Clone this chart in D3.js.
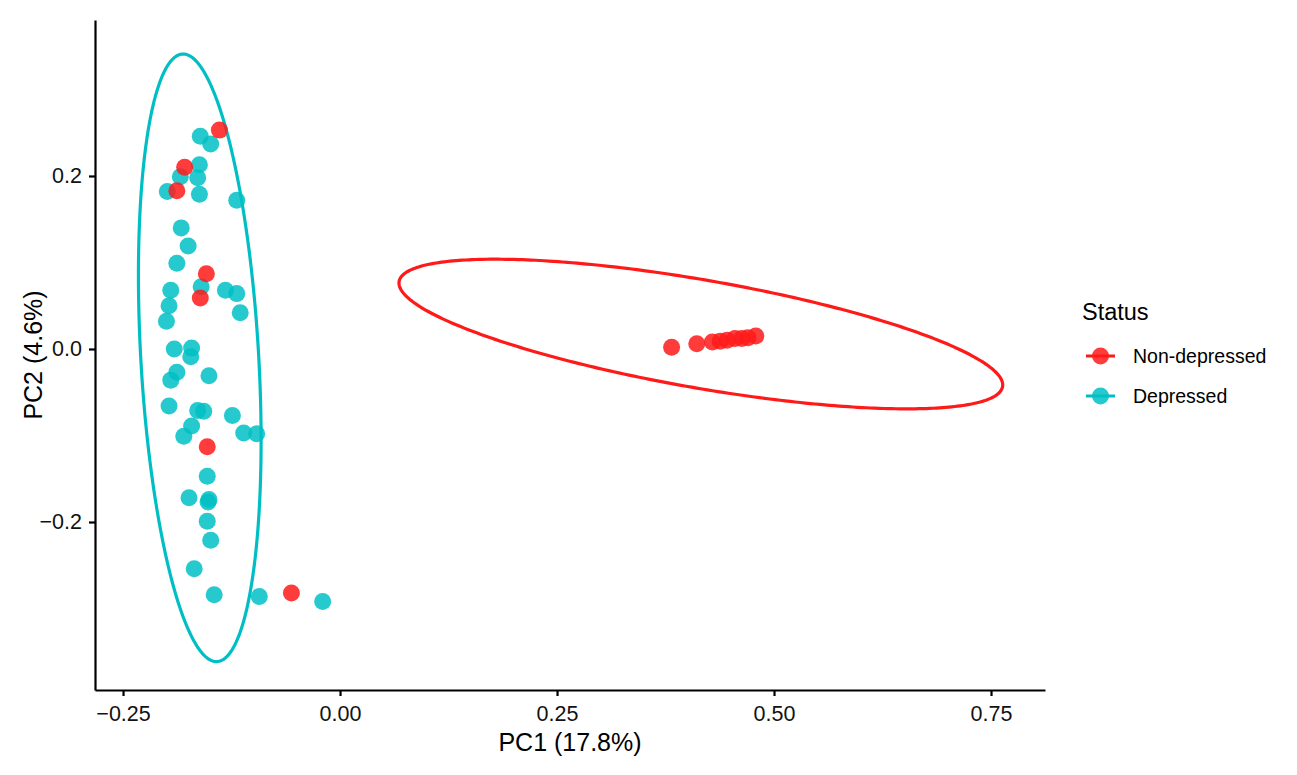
<!DOCTYPE html>
<html>
<head>
<meta charset="utf-8">
<script src="https://cdn.jsdelivr.net/npm/d3@7"></script>
<style>
  html, body { margin: 0; padding: 0; background: #ffffff; }
  svg text { font-family: "Liberation Sans", Arial, sans-serif; }
</style>
</head>
<body>
<svg id="chart" width="1297" height="775"></svg>
<script>
// ---- data ----
const statusLevels = ["Non-depressed", "Depressed"];
const statusColors = ["#ff1a1a", "#00bfc4"];

const depressedPC1 = [-0.161, -0.149, -0.162, -0.184, -0.164, -0.199, -0.162, -0.119, -0.183, -0.175,
  -0.188, -0.195, -0.160, -0.132, -0.119, -0.197, -0.115, -0.200, -0.191, -0.171,
  -0.172, -0.188, -0.195, -0.151, -0.197, -0.164, -0.157, -0.124, -0.171, -0.180,
  -0.111, -0.096, -0.153, -0.174, -0.152, -0.151, -0.153, -0.149, -0.168, -0.145,
  -0.093, -0.020];
const depressedPC2 = [0.246, 0.237, 0.213, 0.199, 0.198, 0.182, 0.179, 0.172, 0.140, 0.119,
  0.099, 0.068, 0.072, 0.068, 0.064, 0.050, 0.042, 0.032, 0.000, 0.001,
  -0.009, -0.027, -0.036, -0.031, -0.066, -0.071, -0.072, -0.077, -0.089, -0.101,
  -0.097, -0.098, -0.147, -0.172, -0.177, -0.174, -0.199, -0.221, -0.254, -0.284,
  -0.286, -0.292];

const nonDepressedPC1 = [-0.139, -0.179, -0.188, -0.154, -0.161, -0.153, -0.056,
  0.382, 0.411, 0.429, 0.438, 0.446, 0.455, 0.463, 0.470, 0.479];
const nonDepressedPC2 = [0.253, 0.210, 0.183, 0.087, 0.059, -0.113, -0.282,
  0.002, 0.006, 0.008, 0.009, 0.010, 0.012, 0.012, 0.013, 0.015];

// 95% ellipses (centre x, centre y, semi-major, semi-minor, angle in degrees)
const ellipseDepressed = [-0.1616, -0.0102, 0.3517, 0.0679, 93.25];
const ellipseNonDepressed = [0.4157, 0.0173, 0.3529, 0.0624, -9.93];

const xTicks = [-0.25, 0.00, 0.25, 0.50, 0.75];
const yTicks = [-0.2, 0.0, 0.2];
const xTitle = "PC1 (17.8%)";
const yTitle = "PC2 (4.6%)";
const legendTitle = "Status";

// ---- layout ----
const svg = d3.select("#chart");
const mLeft = 95, mRight = 1045, mTop = 20, mBottom = 690;

const x = d3.scaleLinear().domain([-0.2823, 0.8122]).range([mLeft, mRight]);
const y = d3.scaleLinear().domain([-0.3942, 0.3803]).range([mBottom, mTop]);

// ellipses
function ellipsePoints(e) {
  const [cx, cy, a, b, deg] = e;
  const th = deg * Math.PI / 180;
  return d3.range(0, 361, 1).map(i => {
    const t = i * Math.PI / 180;
    return [cx + a * Math.cos(t) * Math.cos(th) - b * Math.sin(t) * Math.sin(th),
            cy + a * Math.cos(t) * Math.sin(th) + b * Math.sin(t) * Math.cos(th)];
  });
}
const line = d3.line().x(d => x(d[0])).y(d => y(d[1])).curve(d3.curveLinearClosed);

svg.append("path").attr("d", line(ellipsePoints(ellipseDepressed)))
  .attr("fill", "none").attr("stroke", statusColors[1]).attr("stroke-width", 3.2);
svg.append("path").attr("d", line(ellipsePoints(ellipseNonDepressed)))
  .attr("fill", "none").attr("stroke", statusColors[0]).attr("stroke-width", 3.2);

// points
const r = 8.5;
svg.append("g").selectAll("circle")
  .data(d3.zip(depressedPC1, depressedPC2))
  .join("circle")
  .attr("cx", d => x(d[0])).attr("cy", d => y(d[1])).attr("r", r)
  .attr("fill", statusColors[1]).attr("fill-opacity", 0.85);
svg.append("g").selectAll("circle")
  .data(d3.zip(nonDepressedPC1, nonDepressedPC2))
  .join("circle")
  .attr("cx", d => x(d[0])).attr("cy", d => y(d[1])).attr("r", r)
  .attr("fill", statusColors[0]).attr("fill-opacity", 0.85);

// axes
const fmtX = d => (d < 0 ? "\u2212" : "") + Math.abs(d).toFixed(2);
const fmtY = d => (d < 0 ? "\u2212" : "") + Math.abs(d).toFixed(1);

const gx = svg.append("g").attr("transform", `translate(0,${mBottom})`)
  .call(d3.axisBottom(x).tickValues(xTicks).tickFormat(fmtX).tickSize(6).tickSizeOuter(0).tickPadding(5));
const gy = svg.append("g").attr("transform", `translate(${mLeft},0)`)
  .call(d3.axisLeft(y).tickValues(yTicks).tickFormat(fmtY).tickSize(6).tickSizeOuter(0).tickPadding(7));

[gx, gy].forEach(g => {
  g.select(".domain").attr("stroke", "#000").attr("stroke-width", 2.2);
  g.selectAll(".tick line").attr("stroke", "#000").attr("stroke-width", 2.2);
  g.selectAll(".tick text").attr("fill", "#111").style("font-size", "21.5px")
    .style("font-family", "'Liberation Sans', Arial, sans-serif");
});
gx.selectAll(".tick text").attr("dy", "0.95em");

// axis titles
svg.append("text").attr("x", 570).attr("y", 751)
  .attr("text-anchor", "middle").style("font-size", "25px").attr("fill", "#000").text(xTitle);
svg.append("text").attr("transform", `translate(42,${355}) rotate(-90)`)
  .attr("text-anchor", "middle").style("font-size", "25px").attr("fill", "#000").text(yTitle);

// legend
const lg = svg.append("g").attr("transform", "translate(1082,0)");
lg.append("text").attr("x", 0).attr("y", 320).style("font-size", "23.5px").attr("fill", "#000").text(legendTitle);
statusLevels.forEach((s, i) => {
  const yy = 356 + i * 40;
  lg.append("line").attr("x1", 4).attr("x2", 33).attr("y1", yy).attr("y2", yy)
    .attr("stroke", statusColors[i]).attr("stroke-width", 3);
  lg.append("circle").attr("cx", 18.5).attr("cy", yy).attr("r", r)
    .attr("fill", statusColors[i]).attr("fill-opacity", 0.85);
  lg.append("text").attr("x", 51).attr("y", yy).attr("dy", "0.35em")
    .style("font-size", "19.5px").attr("fill", "#000").text(s);
});
</script>
</body>
</html>
